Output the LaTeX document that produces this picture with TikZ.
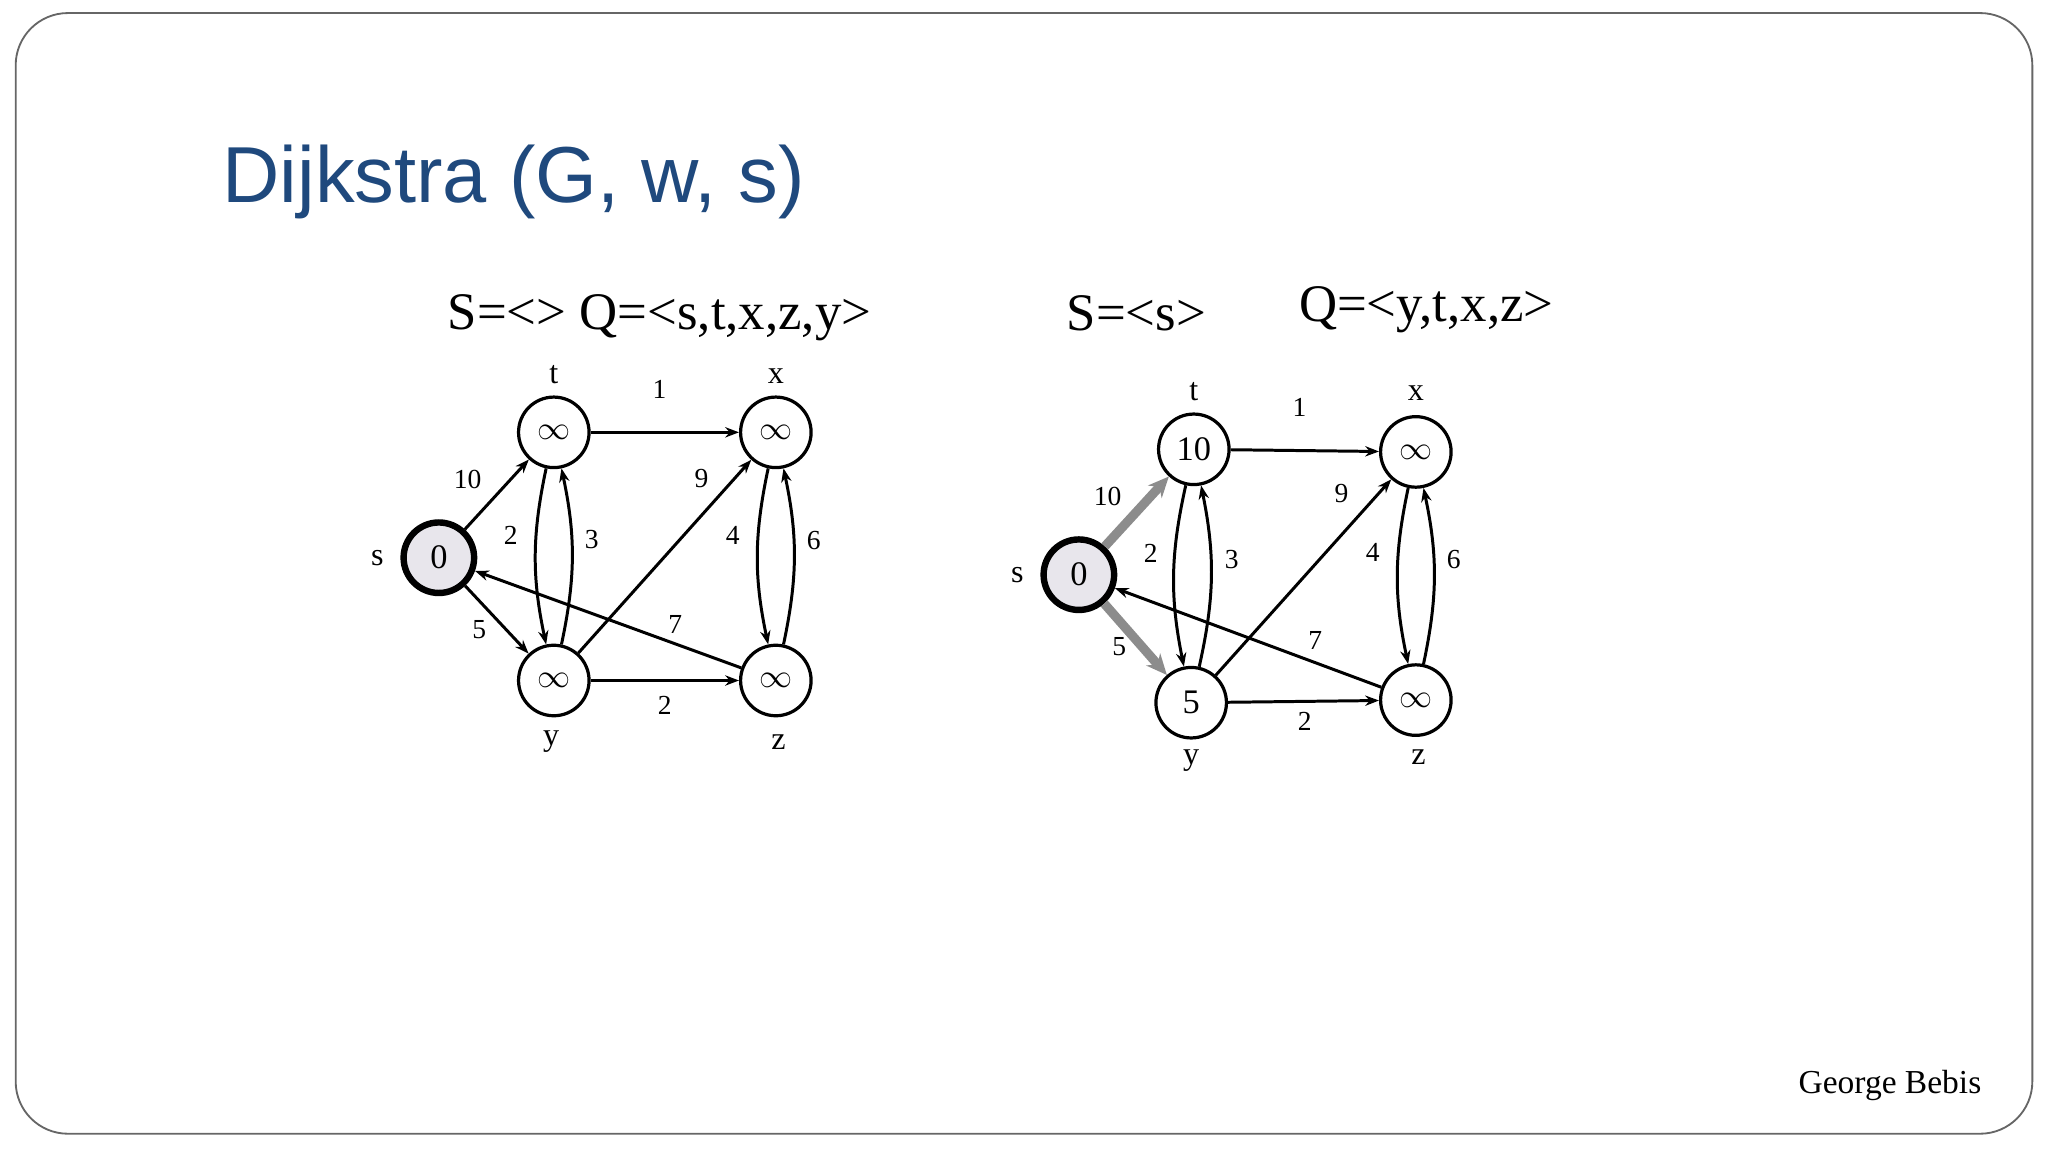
\documentclass[tikz,border=0pt]{standalone}
\usepackage{fontspec}
\setmainfont{Liberation Serif}
\newfontfamily\titlefont{Liberation Sans}
\usetikzlibrary{arrows.meta}
\definecolor{titleblue}{RGB}{31,73,125}
\definecolor{sfill}{RGB}{232,230,236}
\begin{document}
\begin{tikzpicture}[x=0.02cm,y=-0.02cm,
  vtx/.style={circle,draw,line width=1.4pt,minimum size=1.08cm,inner sep=0pt,font=\fontsize{15}{15}\selectfont},
  src/.style={vtx,line width=2.8pt,fill=sfill},
  nm/.style={font=\fontsize{14}{14}\selectfont},
  wl/.style={font=\fontsize{12}{12}\selectfont},
  st/.style={font=\fontsize{23}{23}\selectfont},
  ed/.style={line width=1.3pt,-{Stealth[length=6pt,width=4.5pt]}},
  hl/.style={line width=4pt,draw=gray!90,-{Stealth[length=9pt,width=8pt]}}]
\useasboundingbox (0,0) rectangle (1568,882);
\draw[line width=0.8pt,draw=black!60,rounded corners=0.8cm] (12,10) rectangle (1556,868);
\node[anchor=base west,font=\titlefont\fontsize{34.6}{35}\selectfont,text=titleblue,inner sep=0] (title) at (170,155) {Dijkstra (G, w, s)};
% left graph
\node[st] (SQ1) at (505,243) {S=<> Q=<s,t,x,z,y>};
\node[src] (s1) at (336,427) {0};
\node[vtx] (t1) at (424,331) {$\infty$};
\node[vtx] (x1) at (594,331) {$\infty$};
\node[vtx] (y1) at (424,521) {$\infty$};
\node[vtx] (z1) at (594,521) {$\infty$};
\node[nm] (ls1) at (289,427) {s};
\node[nm] (lt1) at (424,287) {t};
\node[nm] (lx1) at (594,288) {x};
\node[nm] (ly1) at (422,568) {y};
\node[nm] (lz1) at (596,568) {z};
\draw[ed] (s1) -- (t1);
\draw[ed] (s1) -- (y1);
\draw[ed] (t1) -- (x1);
\draw[ed] (t1) to[bend right=12] (y1);
\draw[ed] (y1) to[bend right=12] (t1);
\draw[ed] (y1) -- (x1);
\draw[ed] (y1) -- (z1);
\draw[ed] (x1) to[bend right=12] (z1);
\draw[ed] (z1) to[bend right=12] (x1);
\draw[ed] (z1) -- (s1);
\node[wl] (w1a) at (505,298) {1};
\node[wl] (w1b) at (358,367) {10};
\node[wl] (w1c) at (537,366) {9};
\node[wl] (w1d) at (391,410) {2};
\node[wl] (w1e) at (453,413) {3};
\node[wl] (w1f) at (561,410) {4};
\node[wl] (w1g) at (623,414) {6};
\node[wl] (w1h) at (367,482) {5};
\node[wl] (w1i) at (517,478) {7};
\node[wl] (w1j) at (509,540) {2};
% right graph
\node[st] (S2) at (870,240) {S=<s>};
\node[st] (Q2) at (1092,237) {Q=<y,t,x,z>};
\node[src] (s2) at (826,440) {0};
\node[vtx] (t2) at (914,344) {10};
\node[vtx] (x2) at (1084,346) {$\infty$};
\node[vtx] (y2) at (912,538) {5};
\node[vtx] (z2) at (1084,536) {$\infty$};
\node[nm] (ls2) at (779,440) {s};
\node[nm] (lt2) at (914,300) {t};
\node[nm] (lx2) at (1084,301) {x};
\node[nm] (ly2) at (912,582) {y};
\node[nm] (lz2) at (1086,580) {z};
\draw[hl] (s2) -- (t2);
\draw[hl] (s2) -- (y2);
\draw[ed] (t2) -- (x2);
\draw[ed] (t2) to[bend right=12] (y2);
\draw[ed] (y2) to[bend right=12] (t2);
\draw[ed] (y2) -- (x2);
\draw[ed] (y2) -- (z2);
\draw[ed] (x2) to[bend right=12] (z2);
\draw[ed] (z2) to[bend right=12] (x2);
\draw[ed] (z2) -- (s2);
\node[wl] (w2a) at (995,312) {1};
\node[wl] (w2b) at (848,380) {10};
\node[wl] (w2c) at (1027,378) {9};
\node[wl] (w2d) at (881,424) {2};
\node[wl] (w2e) at (943,428) {3};
\node[wl] (w2f) at (1051,423) {4};
\node[wl] (w2g) at (1113,428) {6};
\node[wl] (w2h) at (857,495) {5};
\node[wl] (w2i) at (1007,490) {7};
\node[wl] (w2j) at (999,552) {2};
\node[font=\fontsize{14.6}{15}\selectfont] (auth) at (1447,831) {George Bebis};
\end{tikzpicture}
\end{document}
